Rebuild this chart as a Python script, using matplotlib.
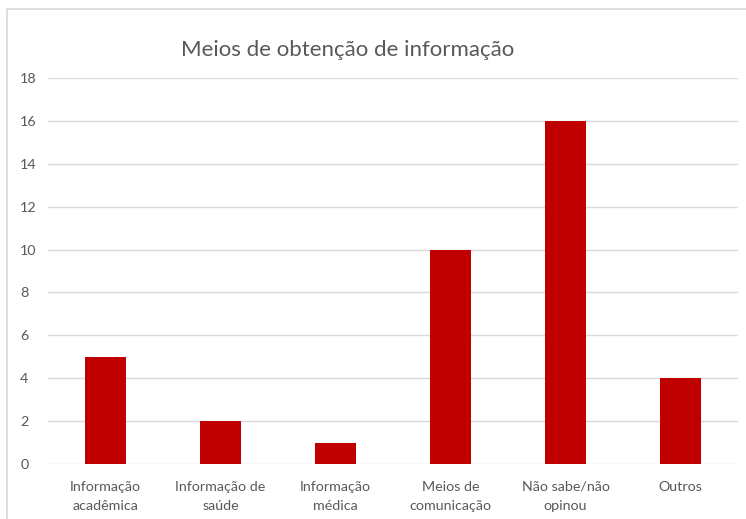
import matplotlib.pyplot as plt
from matplotlib.patches import Rectangle

categorias = ['Informação\nacadêmica', 'Informação de\nsaúde', 'Informação\nmédica',
              'Meios de\ncomunicação', 'Não sabe/não\nopinou', 'Outros']
valores = [5, 2, 1, 10, 16, 4]

plt.rcParams['font.family'] = ['Lato', 'DejaVu Sans']

fig = plt.figure(figsize=(7.46, 5.19), dpi=100)
ax = fig.add_axes([48/746, 1 - 464/519, 690/746, 386/519])

# borde del área del gráfico (sólo arriba e izquierda visibles)
fig.patches.append(Rectangle((7/746, -0.1), 1.2, 1 - 9/519 + 0.1, transform=fig.transFigure,
                             fill=False, edgecolor='#d9d9d9', linewidth=1.2))

x = range(len(categorias))
ax.bar(x, valores, width=0.36, color='#C00000', zorder=3)

ax.set_xlim(-0.5, 5.5)
ax.set_ylim(0, 18)
ax.set_yticks(range(0, 19, 2))
ax.grid(axis='y', color='#d9d9d9', linewidth=1, zorder=0)
for s in ax.spines.values():
    s.set_visible(False)
ax.tick_params(axis='both', length=0, colors='#595959', labelsize=10.3)
ax.tick_params(axis='y', pad=20)
ax.set_xticks(list(x))
ax.set_xticklabels(categorias, linespacing=1.75)
ax.tick_params(axis='x', pad=12)
for lbl in ax.get_yticklabels():
    lbl.set_horizontalalignment('left')

fig.text(348/746, 1 - 50/519, 'Meios de obtenção de informação', ha='center', va='center',
         fontsize=16, color='#595959')

fig.savefig('out.png', dpi=100)
